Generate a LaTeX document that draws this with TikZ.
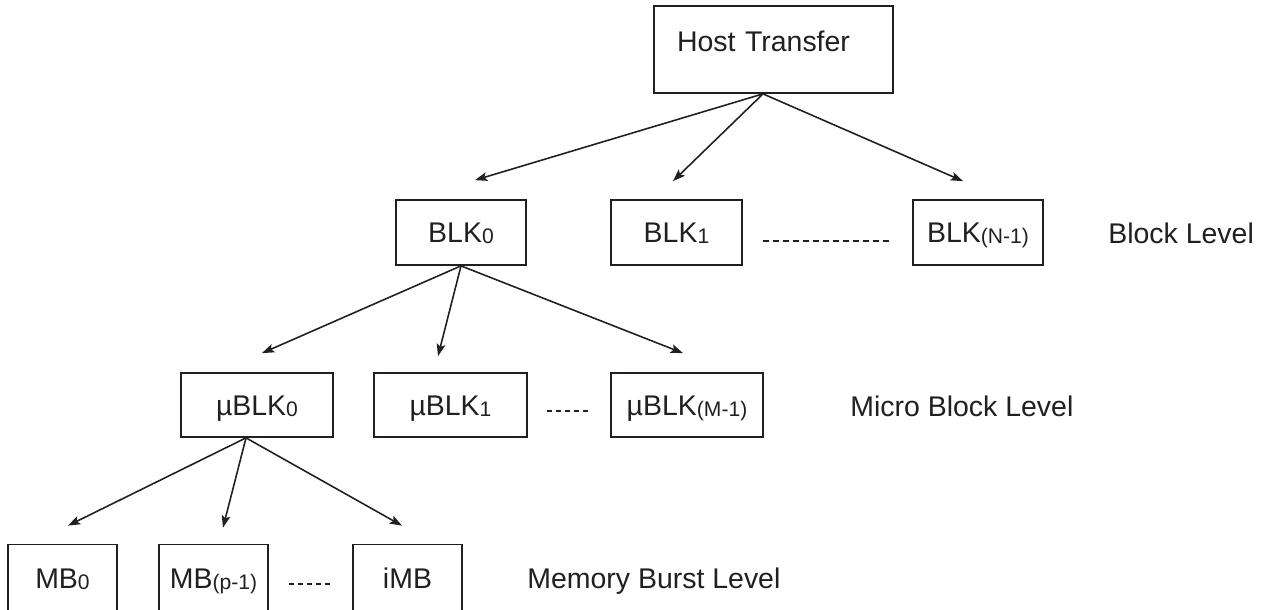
\documentclass[tikz,border=0pt]{standalone}
\usepackage{fontspec}
\setmainfont{Liberation Sans}
\usepackage{tikz}
\usetikzlibrary{arrows.meta,calc}
\definecolor{inkgray}{RGB}{35,31,32}
\newcommand{\idx}[1]{\raisebox{-0.6pt}{\fontsize{12}{12}\selectfont #1}}

\begin{document}
\begin{tikzpicture}[x=0.02cm, y=-0.02cm,
    lvlbox/.style={draw=inkgray, line width=1pt, inner sep=0pt, text=inkgray,
      font=\fontsize{16.2}{19}\selectfont, text height=13pt, text depth=1.4pt},
    blkbox/.style={lvlbox, minimum width=2.6cm, minimum height=1.3cm},
    ublkbox/.style={lvlbox, minimum width=3.04cm, minimum height=1.28cm},
    mbbox/.style={lvlbox, minimum width=2.18cm, minimum height=1.34cm},
    lvltext/.style={anchor=west, inner sep=0pt, text=inkgray,
      font=\fontsize{16.2}{19}\selectfont, text height=13pt, text depth=1.4pt},
    down/.style={draw=inkgray, line width=0.9pt, -{Stealth[length=7pt,width=5pt,inset=1.5pt]}},
    gap/.style={draw=inkgray, line width=1.1pt, dash pattern=on 0.12cm off 0.08cm},
    shortgap/.style={gap, dash pattern=on 0.1cm off 0.08cm}]
    \useasboundingbox (0,0) rectangle (1265,609);

    % top of the tree
    \node[lvlbox, minimum width=4.78cm, minimum height=1.74cm, text width=3.86cm,
      align=left, text depth=11pt] (host) at (773.5,49.5) {Host Transfer};

    % block level
    \node[blkbox] (blk0) at (461,232.5) {BLK\idx{0}};
    \node[blkbox, minimum width=2.62cm] (blk1) at (676.5,232.5) {BLK\idx{1}};
    \node[blkbox] (blkn) at (978,232.5) {BLK\idx{(N-1)}};
    \node[lvltext] (blklevel) at (1108,233) {Block Level};

    % micro block level
    \node[ublkbox] (ublk0) at (257,405) {µBLK\idx{0}};
    \node[ublkbox, minimum width=3.06cm] (ublk1) at (450.5,405) {µBLK\idx{1}};
    \node[ublkbox] (ublkm) at (687,405) {µBLK\idx{(M-1)}};
    \node[lvltext] (ublklevel) at (850,406) {Micro Block Level};

    % memory burst level
    \node[mbbox] (mb0) at (62.5,578) {MB\idx{0}};
    \node[mbbox] (mbp) at (213.5,578) {MB\idx{(p-1)}};
    \node[mbbox] (imb) at (407.5,578) {iMB};
    \node[lvltext] (mblevel) at (527,578) {Memory Burst Level};

    % arrows
    \draw[down] ($(host.south)+(-10.5,0)$) -- ($(blk0.north)+(14,-19)$);
    \draw[down] ($(host.south)+(-10.5,0)$) -- ($(blk1.north)+(-3.5,-18)$);
    \draw[down] ($(host.south)+(-10.5,0)$) -- ($(blkn.north)+(-15,-18)$);

    \draw[down] (blk0.south) -- ($(ublk0.north)+(5,-19)$);
    \draw[down] (blk0.south) -- ($(ublk1.north)+(-12.5,-16)$);
    \draw[down] (blk0.south) -- ($(ublkm.north)+(-4,-19)$);

    \draw[down] ($(ublk0.south)+(-11,0)$) -- ($(mb0.north)+(5.5,-18)$);
    \draw[down] ($(ublk0.south)+(-11,0)$) -- ($(mbp.north)+(9.5,-16)$);
    \draw[down] ($(ublk0.south)+(-11,0)$) -- ($(imb.north)+(-5.5,-18)$);

    % dotted gaps
    \draw[gap] ($(blk1.east)+(20,8.5)$) -- ($(blkn.west)+(-21,8.5)$);
    \draw[shortgap] ($(ublk1.east)+(19,6)$) -- ($(ublkm.west)+(-20,6)$);
    \draw[shortgap] ($(mbp.east)+(20,6)$) -- ($(imb.west)+(-21,6)$);
\end{tikzpicture}
\end{document}
